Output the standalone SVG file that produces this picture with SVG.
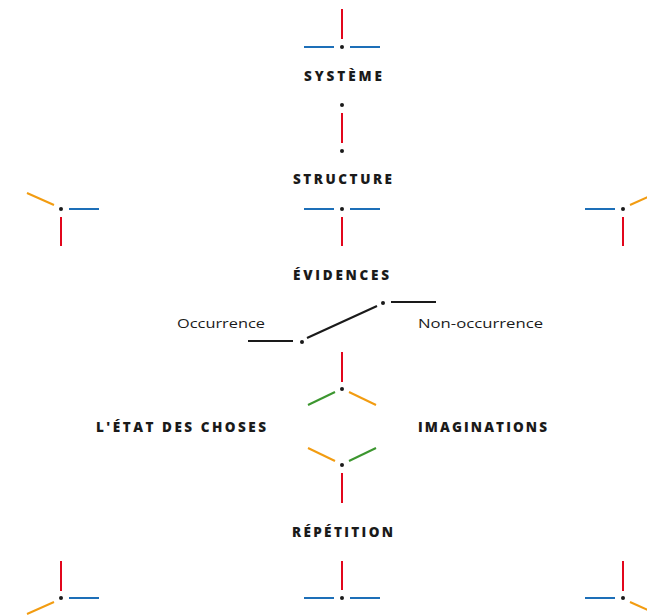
<svg xmlns="http://www.w3.org/2000/svg" width="647" height="615" viewBox="0 0 647 615">
  <style>
    .r { stroke: #e2061c; stroke-width: 2; fill: none; }
    .b { stroke: #1d6fb8; stroke-width: 2; fill: none; }
    .o { stroke: #f29c11; stroke-width: 2; fill: none; }
    .g { stroke: #3c962f; stroke-width: 2; fill: none; }
    .k { stroke: #1a1a1a; stroke-width: 2; fill: none; }
    .dot { fill: #1a1a1a; }
    .cap { font-family: "Open Sans", "DejaVu Sans", sans-serif; font-weight: 800; font-size: 13.5px; fill: #1a1a1a; }
    .lab { font-family: "Open Sans", "DejaVu Sans", sans-serif; font-size: 13.5px; fill: #1a1a1a; }
  </style>

  <!-- junction nodes -->
  <g id="systeme">
    <line class="r" x1="342" y1="9" x2="342" y2="39"/>
    <line class="b" x1="304" y1="47" x2="334" y2="47"/>
    <line class="b" x1="350" y1="47" x2="380" y2="47"/>
    <circle class="dot" cx="342" cy="47" r="2"/>
    <text class="cap" x="304" y="81" textLength="78" lengthAdjust="spacing">SYSTÈME</text>
  </g>

  <g id="structure">
    <text class="cap" x="293" y="184" textLength="99" lengthAdjust="spacing">STRUCTURE</text>
    <line class="b" x1="304" y1="209" x2="334" y2="209"/>
    <line class="b" x1="350" y1="209" x2="380" y2="209"/>
    <circle class="dot" cx="342" cy="209" r="2"/>
    <line class="r" x1="342" y1="217" x2="342" y2="246"/>
  </g>

  <g id="corner-top-left">
    <line class="o" x1="27" y1="193" x2="54" y2="205"/>
    <line class="b" x1="69" y1="209" x2="99" y2="209"/>
    <line class="r" x1="61" y1="217" x2="61" y2="246"/>
    <circle class="dot" cx="61" cy="209" r="2"/>
  </g>

  <g id="corner-top-right">
    <line class="b" x1="585" y1="209" x2="615" y2="209"/>
    <line class="o" x1="630" y1="205" x2="657" y2="193"/>
    <line class="r" x1="623" y1="217" x2="623" y2="246"/>
    <circle class="dot" cx="623" cy="209" r="2"/>
  </g>

  <g id="evidences">
    <text class="cap" x="293" y="280" textLength="96" lengthAdjust="spacing">ÉVIDENCES</text>
    <line class="k" x1="248" y1="341" x2="293" y2="341"/>
    <circle class="dot" cx="302" cy="342" r="2"/>
    <line class="k" x1="307" y1="338" x2="377" y2="306"/>
    <circle class="dot" cx="383" cy="303" r="2"/>
    <line class="k" x1="391" y1="302" x2="436" y2="302"/>
    <text class="lab" x="177" y="328" textLength="88" lengthAdjust="spacingAndGlyphs">Occurrence</text>
    <text class="lab" x="418" y="328" textLength="125" lengthAdjust="spacingAndGlyphs">Non-occurrence</text>
  </g>

  <g id="fork-upper">
    <line class="r" x1="342" y1="352" x2="342" y2="382"/>
    <circle class="dot" cx="342" cy="389" r="2"/>
    <line class="g" x1="308" y1="405" x2="335" y2="392"/>
    <line class="o" x1="349" y1="392" x2="376" y2="405"/>
  </g>

  <g id="etat-des-choses">
    <text class="cap" x="96" y="432" textLength="170" lengthAdjust="spacing">L'ÉTAT DES CHOSES</text>
  </g>

  <g id="imaginations">
    <text class="cap" x="418" y="432" textLength="129" lengthAdjust="spacing">IMAGINATIONS</text>
  </g>

  <g id="fork-lower">
    <line class="o" x1="308" y1="448" x2="335" y2="461"/>
    <circle class="dot" cx="342" cy="465" r="2"/>
    <line class="g" x1="349" y1="461" x2="376" y2="448"/>
    <line class="r" x1="342" y1="473" x2="342" y2="503"/>
  </g>

  <g id="repetition">
    <text class="cap" x="292" y="537" textLength="101" lengthAdjust="spacing">RÉPÉTITION</text>
    <line class="r" x1="342" y1="561" x2="342" y2="590"/>
    <line class="b" x1="304" y1="598" x2="334" y2="598"/>
    <line class="b" x1="350" y1="598" x2="380" y2="598"/>
    <circle class="dot" cx="342" cy="598" r="2"/>
  </g>

  <g id="corner-bottom-left">
    <line class="r" x1="61" y1="561" x2="61" y2="591"/>
    <line class="b" x1="69" y1="598" x2="99" y2="598"/>
    <line class="o" x1="54" y1="602" x2="27" y2="614"/>
    <circle class="dot" cx="61" cy="598" r="2"/>
  </g>

  <g id="corner-bottom-right">
    <line class="r" x1="623" y1="561" x2="623" y2="591"/>
    <line class="b" x1="585" y1="598" x2="615" y2="598"/>
    <line class="o" x1="630" y1="602" x2="657" y2="614"/>
    <circle class="dot" cx="623" cy="598" r="2"/>
  </g>

  <!-- connectors -->
  <g id="connectors">
    <circle class="dot" cx="342" cy="105" r="2"/>
    <line class="r" x1="342" y1="113" x2="342" y2="143"/>
    <circle class="dot" cx="342" cy="151" r="2"/>
  </g>
</svg>
